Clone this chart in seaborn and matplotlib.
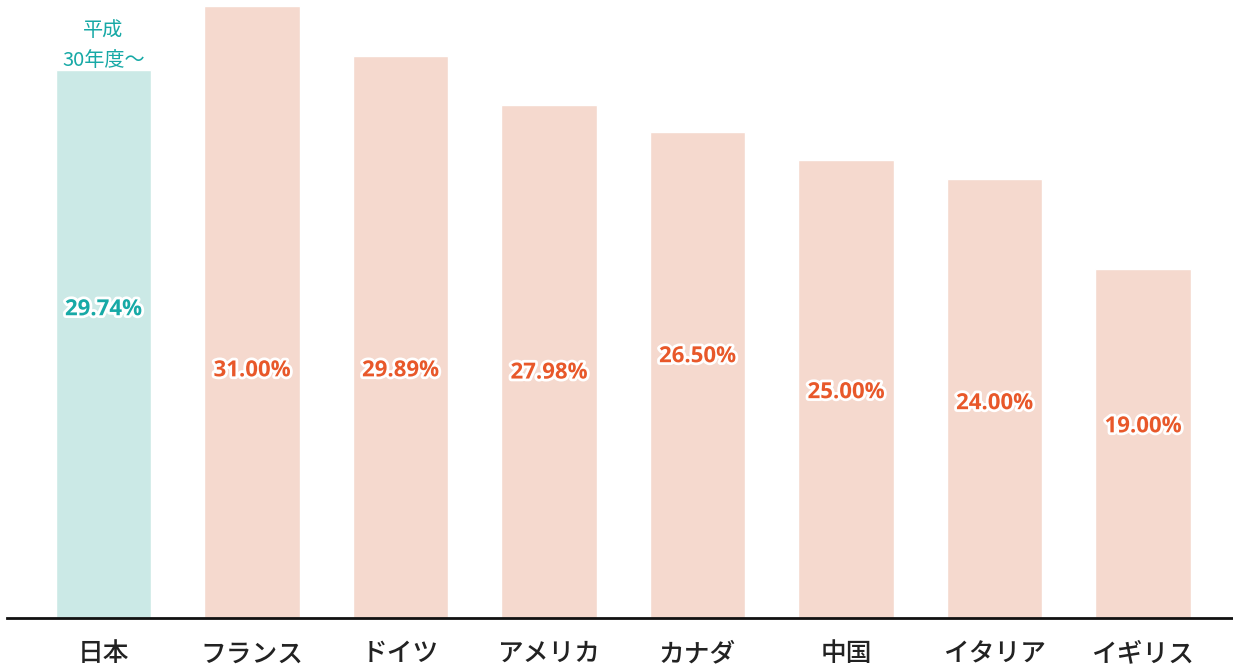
import matplotlib
matplotlib.use("Agg")
import matplotlib.pyplot as plt
import matplotlib.patheffects as pe
import seaborn as sns
import pandas as pd

countries = ["日本", "フランス", "ドイツ", "アメリカ", "カナダ", "中国", "イタリア", "イギリス"]
rates = [29.74, 31.00, 29.89, 27.98, 26.50, 25.00, 24.00, 19.00]
# bar heights as drawn in the reference (not strictly proportional to the labels)
bar_heights = [29.85, 33.35, 30.63, 27.96, 26.49, 24.96, 23.92, 19.02]
label_y = [16.80, 13.47, 13.47, 13.35, 14.24, 12.28, 11.68, 10.42]
note_text = "平成\n30年度～"

sns.set_theme(style="white")
plt.rcParams["font.family"] = ["Noto Sans CJK JP", "DejaVu Sans"]

teal_bar = "#CBE9E6"
teal_txt = "#17A9A6"
salmon_bar = "#F5D9CE"
salmon_txt = "#E8582A"

df = pd.DataFrame({"country": countries, "height": bar_heights})
palette = [teal_bar] + [salmon_bar] * (len(countries) - 1)

fig = plt.figure(figsize=(12.33, 6.66), dpi=100)
ax = fig.add_axes([7 / 1233, 48 / 666, 1 - 7 / 1233, 618 / 666])
sns.barplot(data=df, x="country", y="height", hue="country", palette=palette,
            legend=False, width=0.645, saturation=1, ax=ax)

ax.set_xlim(-0.65, 7.606)
ax.set_ylim(0, 33.68)
ax.set_xlabel("")
ax.set_ylabel("")
ax.set_yticks([])
for s in ["top", "right", "left"]:
    ax.spines[s].set_visible(False)
ax.spines["bottom"].set_color("#111111")
ax.spines["bottom"].set_linewidth(2)
ax.tick_params(axis="x", length=0, pad=16, labelsize=18.5, labelcolor="#222222")
for lbl in ax.get_xticklabels():
    lbl.set_fontweight("medium")

for i, (r, ly) in enumerate(zip(rates, label_y)):
    col = teal_txt if i == 0 else salmon_txt
    ax.text(i, ly, f"{r:.2f}%", ha="center", va="center", fontsize=16,
            fontweight="bold", color=col, family=["Open Sans", "DejaVu Sans"],
            path_effects=[pe.withStroke(linewidth=4, foreground="white")])

ax.text(0, bar_heights[0] - 0.05, note_text, ha="center", va="bottom",
        fontsize=14.5, color=teal_txt, linespacing=1.6)

fig.savefig("out.png", dpi=100)
